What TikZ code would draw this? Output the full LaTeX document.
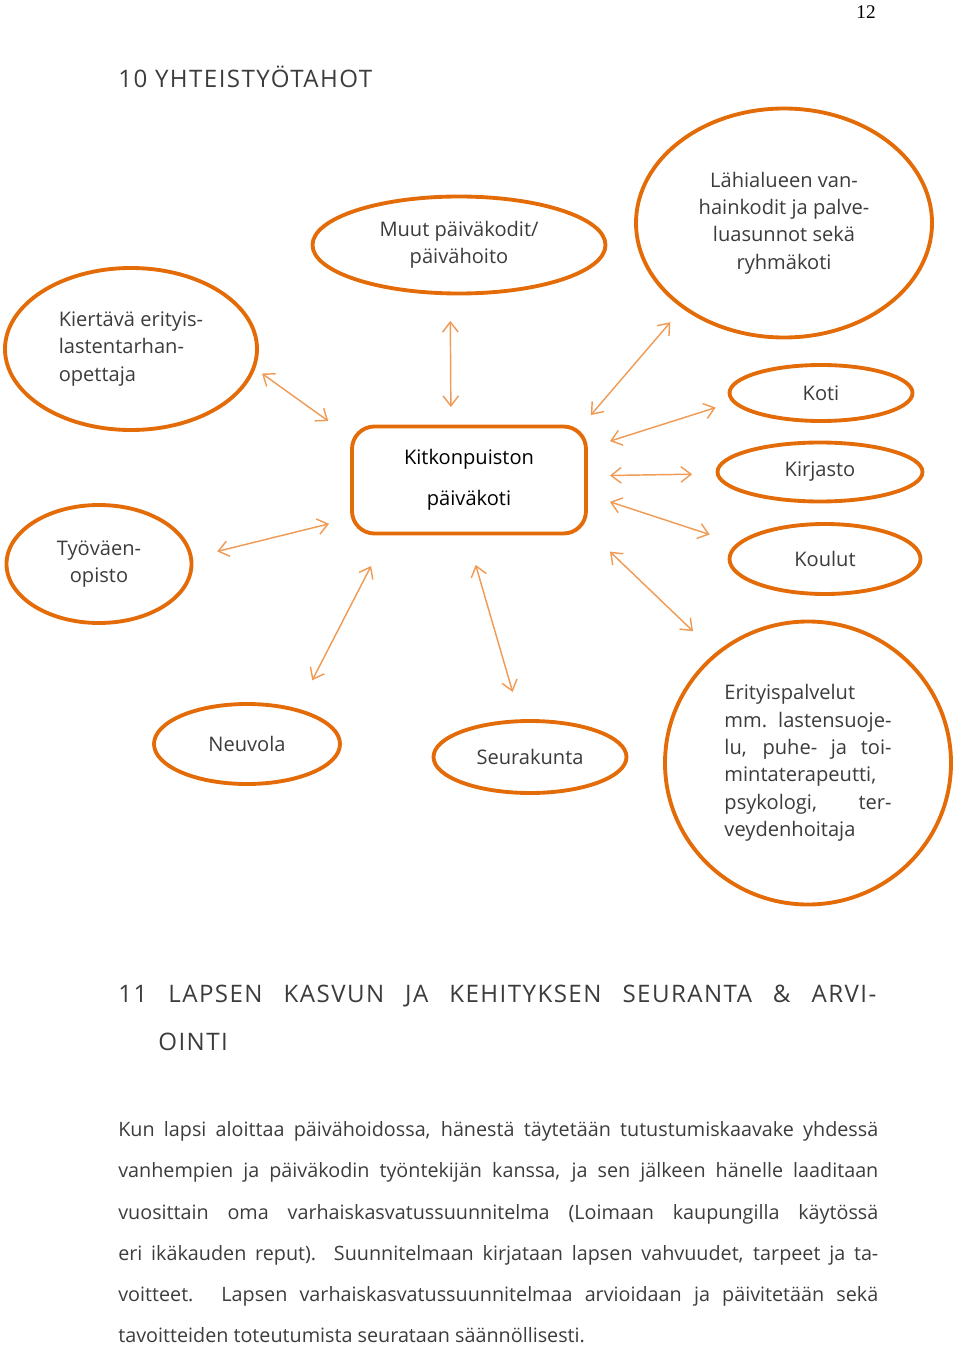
\documentclass[tikz,border=0pt]{standalone}
\usepackage{fontspec}
\setmainfont{Open Sans}
\newfontfamily\headfont[LetterSpace=6]{Open Sans}
\newfontfamily\pagenumfont{Liberation Serif}
\usetikzlibrary{arrows.meta,shapes.geometric}
\definecolor{ovalorange}{RGB}{227,108,9}
\definecolor{arroworange}{RGB}{240,155,85}
\definecolor{textgray}{RGB}{60,60,60}
\newlength{\pxu}\setlength{\pxu}{0.021875cm}

\begin{document}
\begin{tikzpicture}[x=0.021875cm,y=-0.021875cm]
\tikzstyle{ovalstyle}=[draw=ovalorange, ellipse, line width=2.4pt, inner sep=0pt, align=center, text=textgray, font=\fontsize{12.5}{17}\selectfont]
\tikzstyle{linkstyle}=[draw=arroworange, line width=0.9pt, >={Straight Barb[length=2.2mm,width=3.4mm]}, <->]
\tikzstyle{headstyle}=[anchor=base west, inner sep=0pt, text=textgray, font=\headfont\fontsize{15}{18}\selectfont]
\tikzstyle{bodystyle}=[anchor=base west, inner sep=0pt, text=textgray, font=\fontsize{12.3}{15}\selectfont]
    \useasboundingbox (0,0) rectangle (960,1346);
    \node[anchor=base, inner sep=0pt, font=\pagenumfont\fontsize{12}{14}\selectfont] (pagenum) at (866,19) {12};
    \node[headstyle] (head10) at (118,88) {10 YHTEISTYÖTAHOT};
    % partners round the day care centre
    \node[draw=ovalorange, line width=2.4pt, rounded corners=14pt, minimum width=234\pxu, minimum height=107\pxu, align=center, font=\fontsize{12.5}{25.5}\selectfont] (kp) at (469,480) {Kitkonpuiston\\päiväkoti};
    \node[ovalstyle, minimum width=252\pxu, minimum height=162\pxu, align=left] (kiert) at (131,349) {Kiertävä erityis-\\lastentarhan-\\opettaja};
    \node[ovalstyle, minimum width=293\pxu, minimum height=97\pxu] (muut) at (459,245) {Muut päiväkodit/\\päivähoito};
    \node[ovalstyle, minimum width=296\pxu, minimum height=229\pxu] (lahi) at (784,223) {Lähialueen van-\\hainkodit ja palve-\\luasunnot sekä\\ryhmäkoti};
    \node[ovalstyle, minimum width=183\pxu, minimum height=56\pxu] (koti) at (821,393) {Koti};
    \node[ovalstyle, minimum width=205\pxu, minimum height=59\pxu] (kirj) at (820,472) {Kirjasto};
    \node[ovalstyle, minimum width=191\pxu, minimum height=70\pxu] (koul) at (825,559) {Koulut};
    \node[ovalstyle, minimum width=185\pxu, minimum height=118\pxu] (tyov) at (99,564) {Työväen-\\opisto};
    \node[ovalstyle, minimum width=186\pxu, minimum height=80\pxu] (neuv) at (247,744) {Neuvola};
    \node[ovalstyle, minimum width=193\pxu, minimum height=72\pxu] (seur) at (530,757) {Seurakunta};
    \node[ovalstyle, minimum width=286\pxu, minimum height=283\pxu, align=left] (erit) at (808,763) {Erityispalvelut\\\makebox[104pt][s]{mm. lastensuoje-}\\\makebox[104pt][s]{lu, puhe- ja toi-}\\mintaterapeutti,\\\makebox[104pt][s]{psykologi, ter-}\\veydenhoitaja};
    % arrows
    \draw[linkstyle, shorten <=15.9pt, shorten >=10.9pt] (muut.-100.1) -- (kp.108.9);
    \draw[linkstyle, shorten <=5.2pt, shorten >=16.7pt] (kiert.-9.8) -- (kp.160.2);
    \draw[linkstyle, shorten <=11.3pt, shorten >=7.8pt] (lahi.-140.2) -- (kp.26.2);
    \draw[linkstyle, shorten <=10.8pt, shorten >=14.4pt] (koti.-174.4) -- (kp.15.5);
    \draw[linkstyle, shorten <=14.7pt, shorten >=13.7pt] (kirj.181.1) -- (kp.2.9);
    \draw[linkstyle, shorten <=17.7pt, shorten >=14.4pt] (koul.170.3) -- (kp.-7.6);
    \draw[linkstyle, shorten <=19.3pt, shorten >=19pt] (erit.130.6) -- (kp.-23.5);
    \draw[linkstyle, shorten <=15.6pt, shorten >=13.5pt] (tyov.4.8) -- (kp.-162.8);
    \draw[linkstyle, shorten <=19.8pt, shorten >=21.4pt] (neuv.35.9) -- (kp.-146.3);
    \draw[linkstyle, shorten <=17.7pt, shorten >=19.1pt] (seur.104.9) -- (kp.-92.7);
    % next section
    \node[headstyle] (head11) at (118,1002) {\makebox[758\pxu][s]{11 LAPSEN KASVUN JA KEHITYKSEN SEURANTA \& ARVI-}};
    \node[headstyle] (head11b) at (158,1050) {OINTI};
    \node[bodystyle] (line1) at (118,1136) {\makebox[760\pxu][s]{Kun lapsi aloittaa päivähoidossa, hänestä täytetään tutustumiskaavake yhdessä}};
    \node[bodystyle] (line2) at (118,1177) {\makebox[760\pxu][s]{vanhempien ja päiväkodin työntekijän kanssa, ja sen jälkeen hänelle laaditaan}};
    \node[bodystyle] (line3) at (118,1219) {\makebox[760\pxu][s]{vuosittain oma varhaiskasvatussuunnitelma (Loimaan kaupungilla käytössä}};
    \node[bodystyle] (line4) at (118,1260) {\makebox[760\pxu][s]{eri ikäkauden reput). Suunnitelmaan kirjataan lapsen vahvuudet, tarpeet ja ta-}};
    \node[bodystyle] (line5) at (118,1301) {\makebox[760\pxu][s]{voitteet. Lapsen varhaiskasvatussuunnitelmaa arvioidaan ja päivitetään sekä}};
    \node[bodystyle] (line6) at (118,1342) {tavoitteiden toteutumista seurataan säännöllisesti.};
\end{tikzpicture}
\end{document}
